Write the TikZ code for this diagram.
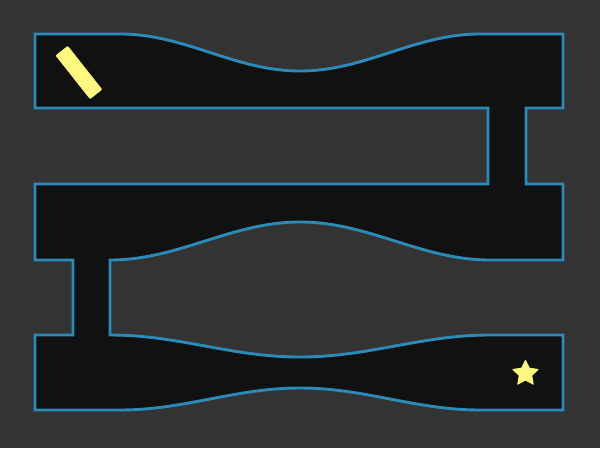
\documentclass[tikz,border=0pt]{standalone}
\usetikzlibrary{shapes.geometric}
\definecolor{bgc}{HTML}{333333}
\definecolor{floorc}{HTML}{111111}
\definecolor{wallc}{HTML}{2B8AB8}
\definecolor{goldc}{HTML}{FFF982}
\tikzset{
  wall/.style={draw=wallc, fill=floorc, line width=2.9pt, line join=miter},
  bar/.style={fill=goldc, draw=goldc, line width=0.6pt, rounded corners=0.8pt, minimum width=55pt, minimum height=15pt, inner sep=0pt},
  goal/.style={fill=goldc, draw=goldc, line width=0.8pt, line join=round, star, star points=5, star point ratio=2.0, minimum size=26.5pt, inner sep=0pt}
}
\begin{document}
\begin{tikzpicture}[x=1pt,y=-1pt]
\fill[bgc] (0,0) rectangle (600,448);
\useasboundingbox (0,0) rectangle (600,448);
\draw[wall] (35,34) -- (120,34)
  -- plot[domain=0:360,samples=90] ({120+\x},{34+18.5*(1-cos(\x))})
  -- (563,34) -- (563,108) -- (526,108) -- (526,184) -- (563,184) -- (563,260) -- (490,260)
  -- plot[domain=0:380,samples=90] ({490-\x},{260-19*(1-cos(\x*0.947368))})
  -- (110,260) -- (110,335)
  -- plot[domain=0:380,samples=90] ({110+\x},{335+11*(1-cos(\x*0.947368))})
  -- (563,335) -- (563,410) -- (480,410)
  -- plot[domain=0:360,samples=90] ({480-\x},{410-11*(1-cos(\x))})
  -- (35,410) -- (35,335) -- (73,335) -- (73,260) -- (35,260) -- (35,184)
  -- (488,184) -- (488,108) -- (35,108) -- cycle;
\node[bar, rotate=-51.7] (key) at (78.9,72.5) {};
\node[goal] (star) at (525.5,373.5) {};
\end{tikzpicture}
\end{document}
